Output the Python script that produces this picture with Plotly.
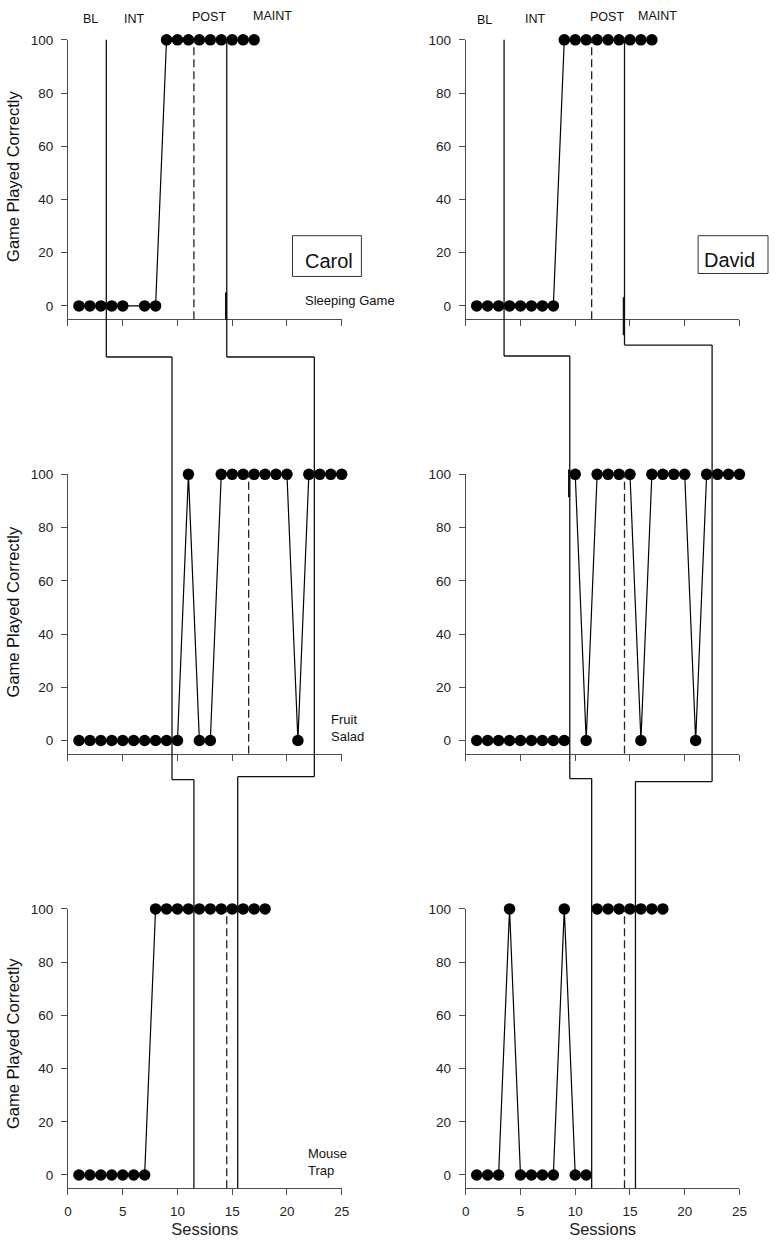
import plotly.graph_objects as go

W, H = 777, 1240
FONT = "Liberation Sans, Arial, sans-serif"

# ---------------- data ----------------
participants = ["Carol", "David"]
games = ["Sleeping Game", "Fruit\nSalad", "Mouse\nTrap"]

carol_sleep_x = [1, 2, 3, 4, 5, 7, 8, 9, 10, 11, 12, 13, 14, 15, 16, 17]
carol_sleep_y = [0, 0, 0, 0, 0, 0, 0, 100, 100, 100, 100, 100, 100, 100, 100, 100]

carol_fruit_x = list(range(1, 26))
carol_fruit_y = [0, 0, 0, 0, 0, 0, 0, 0, 0, 0, 100, 0, 0, 100, 100, 100, 100, 100,
                 100, 100, 0, 100, 100, 100, 100]

carol_mouse_x = list(range(1, 19))
carol_mouse_y = [0, 0, 0, 0, 0, 0, 0, 100, 100, 100, 100, 100, 100, 100, 100, 100, 100, 100]

david_sleep_x = list(range(1, 18))
david_sleep_y = [0, 0, 0, 0, 0, 0, 0, 0, 100, 100, 100, 100, 100, 100, 100, 100, 100]

david_fruit_x = list(range(1, 26))
david_fruit_y = [0, 0, 0, 0, 0, 0, 0, 0, 0, 100, 0, 100, 100, 100, 100, 0, 100, 100,
                 100, 100, 0, 100, 100, 100, 100]

david_mouse_x = list(range(1, 19))
david_mouse_y = [0, 0, 0, 100, 0, 0, 0, 0, 100, 0, 0, 100, 100, 100, 100, 100, 100, 100]

# phase-change lines (sessions)
carol_solid = [[3.5, 14.5], [9.5, 22.5], [11.5, 15.5]]
carol_dashed = [11.5, 16.5, 14.5]
david_solid = [[3.5, 14.5], [9.5, 22.5], [11.5, 15.5]]
david_dashed = [11.5, 14.5, 14.5]

phase_labels = ["BL", "INT", "POST", "MAINT"]
x_ticks = [0, 5, 10, 15, 20, 25]
y_ticks = [0, 20, 40, 60, 80, 100]

series = {
    (0, 0): (carol_sleep_x, carol_sleep_y), (1, 0): (carol_fruit_x, carol_fruit_y),
    (2, 0): (carol_mouse_x, carol_mouse_y), (0, 1): (david_sleep_x, david_sleep_y),
    (1, 1): (david_fruit_x, david_fruit_y), (2, 1): (david_mouse_x, david_mouse_y),
}
solids = {0: carol_solid, 1: david_solid}
dashes = {0: carol_dashed, 1: david_dashed}

# ---------------- geometry (pixels) ----------------
col_px = [(65, 343), (469, 747)]
row_px = [(33, 314), (470, 751), (907, 1188)]
YMIN, YMAX = -5, 100


def px(x):
    return x / W


def py(y):
    return 1 - y / H


def row_val_to_paper(r, v):
    top, bot = row_px[r]
    return py(bot) + (v - YMIN) / (YMAX - YMIN) * (py(top) - py(bot))


fig = go.Figure()
shapes = []
annotations = []
AX = "#4d4d4d"

for r in range(3):
    for c in range(2):
        k = r * 2 + c + 1
        xs, ys = series[(r, c)]
        bounds = solids[c][r]
        lx, ly = [], []
        for i, (xv, yv) in enumerate(zip(xs, ys)):
            if i > 0 and any(xs[i - 1] < b < xv for b in bounds):
                lx.append(None)
                ly.append(None)
            lx.append(xv)
            ly.append(yv)
        fig.add_trace(go.Scatter(
            x=lx, y=ly, mode="lines+markers", xaxis=f"x{k}", yaxis=f"y{k}",
            line=dict(color="black", width=1.2),
            marker=dict(color="black", size=11.5),
            cliponaxis=False, showlegend=False, hoverinfo="skip"))
        xa = dict(domain=[px(col_px[c][0]), px(col_px[c][1])], range=[0, 25],
                  anchor=f"y{k}", showline=True, linecolor=AX, linewidth=1,
                  ticks="outside", ticklen=6, tickcolor=AX, tickwidth=1,
                  tickvals=x_ticks, showgrid=False, zeroline=False,
                  showticklabels=(r == 2), ticklabelstandoff=5,
                  tickfont=dict(family=FONT, size=13.5, color="#222"))
        if r == 2:
            xa["title"] = dict(text="Sessions", font=dict(family=FONT, size=16.5, color="#222"),
                               standoff=4)
        ya = dict(domain=[py(row_px[r][1]), py(row_px[r][0])], range=[YMIN, YMAX],
                  anchor=f"x{k}", showline=True, linecolor=AX, linewidth=1,
                  ticks="outside", ticklen=6, tickcolor=AX, tickwidth=1,
                  tickvals=y_ticks, showgrid=False, zeroline=False,
                  ticklabelstandoff=5,
                  tickfont=dict(family=FONT, size=13.5, color="#222"))
        fig.layout[f"xaxis{k}" if k > 1 else "xaxis"] = xa
        fig.layout[f"yaxis{k}" if k > 1 else "yaxis"] = ya
        # dashed POST line
        dx = dashes[c][r]
        shapes.append(dict(type="line", xref=f"x{k}", yref=f"y{k}", x0=dx, x1=dx,
                           y0=YMIN, y1=YMAX,
                           line=dict(color="#222", width=1.3, dash="8px,4px")))

# stepped phase-change connectors running through the three panels
steps = {  # (column, connector) -> pixel heights of the two horizontal jogs
    (0, 0): (352, 777), (0, 1): (352, 774),
    (1, 0): (351, 776), (1, 1): (340, 779),
}
for c in range(2):
    for j in range(2):
        xt, xm, xb = solids[c][0][j], solids[c][1][j], solids[c][2][j]
        s1, s2 = steps[(c, j)]
        xr = f"x{c + 1}"
        segs = [
            (xt, row_val_to_paper(0, 100), xt, py(s1)),
            (xt, py(s1), xm, py(s1)),
            (xm, py(s1), xm, py(s2)),
            (xm, py(s2), xb, py(s2)),
            (xb, py(s2), xb, row_val_to_paper(2, YMIN)),
        ]
        for x0, y0, x1, y1 in segs:
            shapes.append(dict(type="line", xref=xr, yref="paper", x0=x0, x1=x1,
                               y0=y0, y1=y1, line=dict(color="#111", width=1.3)))

# small thicker overdraw stubs visible in the original
stubs = [(0, 0, 14.5, 287, 314), (1, 0, 14.5, 292, 330), (1, 1, 9.5, 465, 493)]
for c, r, xv, ytop, ybot in stubs:
    shapes.append(dict(type="line", xref=f"x{c + 1}", yref="paper", x0=xv - 0.06, x1=xv - 0.06,
                       y0=py(ytop), y1=py(ybot), line=dict(color="#111", width=2.2)))

# name boxes
boxes = [(293, 230, 363, 271, 330, 255, "Carol"), (705, 230, 776, 268, 737, 254, "David")]
for x0, y0, x1, y1, tx, ty, name in boxes:
    shapes.append(dict(type="rect", xref="paper", yref="paper", x0=px(x0), x1=px(x1),
                       y0=py(y0), y1=py(y1), line=dict(color="#333", width=1)))
    annotations.append(dict(x=px(tx), y=py(ty), xref="paper", yref="paper", text=name,
                            showarrow=False, xanchor="center", yanchor="middle",
                            font=dict(family=FONT, size=20, color="#111")))

# phase labels
label_pos = [
    [(88, 12), (133, 12), (208, 10), (273, 9)],
    [(488, 13), (540, 12), (612, 10), (664, 9)],
]
for c in range(2):
    for lab, (lx_, ly_) in zip(phase_labels, label_pos[c]):
        annotations.append(dict(x=px(lx_), y=py(ly_), xref="paper", yref="paper", text=lab,
                                showarrow=False, xanchor="center", yanchor="middle",
                                font=dict(family=FONT, size=12.5, color="#111")))

# game labels (left column)
game_pos = [(304, 295), (330, 725), (307, 1162)]
for g, (gx, gy) in zip(games, game_pos):
    annotations.append(dict(x=px(gx), y=py(gy), xref="paper", yref="paper",
                            text=g.replace("\n", "<br>"), showarrow=False, align="left",
                            xanchor="left", yanchor="middle",
                            font=dict(family=FONT, size=13, color="#111")))

# y-axis titles
ytitle_y = [170, 608, 1042]
for yy in ytitle_y:
    annotations.append(dict(x=px(9), y=py(yy), xref="paper", yref="paper",
                            text="Game Played Correctly", textangle=-90, showarrow=False,
                            xanchor="center", yanchor="middle",
                            font=dict(family=FONT, size=16.5, color="#111")))

fig.update_layout(width=W, height=H, margin=dict(l=0, r=0, t=0, b=0),
                  paper_bgcolor="white", plot_bgcolor="white",
                  shapes=shapes, annotations=annotations,
                  font=dict(family=FONT))

fig.write_html("out.html", config={"displayModeBar": False},
               post_script="document.body.style.margin='0';")
